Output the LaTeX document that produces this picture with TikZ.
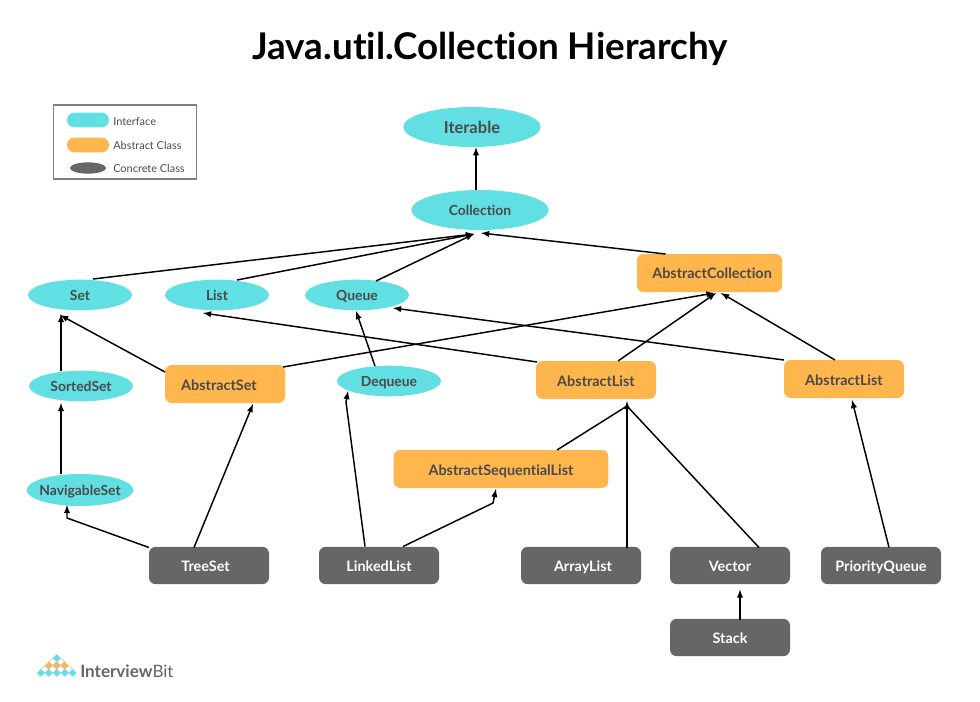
\documentclass[tikz,border=0pt]{standalone}
\usepackage{fontspec}
\setmainfont{Lato}[Ligatures=NoCommon]
\usetikzlibrary{arrows,positioning,shapes.geometric}
\definecolor{ifacecol}{HTML}{61DFE3}
\definecolor{abstcol}{HTML}{FFB64D}
\definecolor{conccol}{HTML}{666666}
\definecolor{txtcol}{HTML}{4A4A4A}
\tikzset{
  iface/.style={ellipse, fill=ifacecol, text=txtcol, font=\bfseries\fontsize{10.4}{12}\selectfont, inner sep=0pt, text height=8pt, text depth=0pt},
  abst/.style={rectangle, rounded corners=5pt, fill=abstcol, text=txtcol, font=\bfseries\fontsize{10.8}{12}\selectfont, inner sep=0pt, minimum width=90pt, minimum height=28.5pt, text height=10pt, text depth=0pt},
  conc/.style={rectangle, rounded corners=5pt, fill=conccol, text=white, font=\bfseries\fontsize{10.8}{12}\selectfont, inner sep=0pt, minimum width=90pt, minimum height=28pt, text height=8.5pt, text depth=0pt},
  arr/.style={-latex, line width=1.1pt, black},
  lne/.style={line width=1.1pt, black},
  legtxt/.style={text=txtcol, font=\fontsize{8.2}{9}\selectfont, anchor=west, inner sep=0pt}
}
\begin{document}
\begin{tikzpicture}[x=0.75pt, y=-0.75pt]
\useasboundingbox (0,0) rectangle (980,701);
\node at (490,49) [font=\bfseries\fontsize{27.6}{32}\selectfont, text=black] (Title) {Java.util.Collection Hierarchy};

\node at (125,142) [draw=gray, line width=0.8pt, minimum width=107.5pt, minimum height=55.5pt, inner sep=0pt] (Legend) {};
\node at (88,120) [rectangle, rounded corners=5.5pt, fill=ifacecol, minimum width=31.5pt, minimum height=11pt, inner sep=0pt] (LegI) {};
\node at (88,145) [rectangle, rounded corners=5.5pt, fill=abstcol, minimum width=31.5pt, minimum height=11pt, inner sep=0pt] (LegA) {};
\node at (88,168) [ellipse, fill=conccol, minimum width=27pt, minimum height=8.5pt, inner sep=0pt] (LegC) {};
\node at (113,121.5) [legtxt] (LegItxt) {Interface};
\node at (113,145.5) [legtxt] (LegAtxt) {Abstract Class};
\node at (113,168.5) [legtxt] (LegCtxt) {Concrete Class};

\node at (472,127) [iface, minimum width=103pt, minimum height=30pt, text height=9.5pt, font=\bfseries\fontsize{12.4}{14}\selectfont] (Iterable) {Iterable};
\node at (480,210) [iface, minimum width=103pt, minimum height=30pt] (Collection) {Collection};
\node at (80,295) [iface, minimum width=78pt, minimum height=23pt] (Set) {Set};
\node at (217,295) [iface, minimum width=78pt, minimum height=23pt] (List) {List};
\node at (357,295) [iface, minimum width=78pt, minimum height=23pt] (Queue) {Queue};
\node at (81,386) [iface, minimum width=78pt, minimum height=23pt] (SortedSet) {SortedSet};
\node at (389,381) [iface, minimum width=78pt, minimum height=23pt] (Dequeue) {Dequeue};
\node at (80,490) [iface, inner xsep=-4pt, minimum width=80pt, minimum height=24pt] (NavigableSet) {NavigableSet};

\node at (709.5,273) [abst, minimum width=109pt, text height=8pt] (AbstractCollection) {\hspace*{3.8pt}AbstractCollection};
\node at (225,384) [abst] (AbstractSet) {\hspace*{-9pt}AbstractSet};
\node at (596,380) [abst] (AbstractListA) {AbstractList};
\node at (844,379) [abst] (AbstractListB) {AbstractList};
\node at (501,469) [abst, minimum width=161pt] (AbstractSequentialList) {AbstractSequentialList};

\node at (209,565.5) [conc] (TreeSet) {\hspace*{-5.2pt}TreeSet};
\node at (379,565.5) [conc] (LinkedList) {LinkedList};
\node at (581,565.5) [conc] (ArrayList) {\hspace*{3pt}ArrayList};
\node at (730,565.5) [conc] (Vector) {Vector};
\node at (881,565.5) [conc] (PriorityQueue) {PriorityQueue};
\node at (730,637.5) [conc] (Stack) {Stack};

\coordinate (CollTip) at ([shift={(-6,24)}]Collection.center);
\coordinate (AlTip) at ([shift={(31,21)}]AbstractListA.center);
\coordinate (AlJoin) at ([shift={(31,26)}]AbstractListA.center);
\coordinate (NavBend) at ([shift={(-13,28)}]NavigableSet.center);
\coordinate (DeqBend) at ([shift={(-43,21)}]Dequeue.center);
\coordinate (SeqBend) at ([shift={(-8,34)}]AbstractSequentialList.center);

\draw[arr] ([xshift=-3pt]Collection.north) -- ([xshift=3pt]Iterable.south);
\draw[arr] ([shift={(13,-16)}]Set.center) -- (CollTip);
\draw[arr] ([shift={(20,-15)}]List.center) -- (CollTip);
\draw[arr] ([shift={(19,-14)}]Queue.center) -- (CollTip);
\draw[arr] ([shift={(-44,-19)}]AbstractCollection.center) -- ([shift={(1,23)}]Collection.center);
\draw[arr] ([shift={(-20,-15)}]SortedSet.center) -- ([shift={(-19,19)}]Set.center);
\draw[arr] ([shift={(-60,-12)}]AbstractSet.center) -- ([shift={(-20,20)}]Set.center);
\draw[arr] ([shift={(58,-17)}]AbstractSet.center) -- ([shift={(5,20)}]AbstractCollection.center);
\draw[arr] ([shift={(-59,-18)}]AbstractListA.center) -- ([shift={(-14,18)}]List.center);
\draw[arr] ([shift={(22,-19)}]AbstractListA.center) -- ([shift={(6.5,20)}]AbstractCollection.center);
\draw[arr] ([shift={(-9,-19)}]AbstractListB.center) -- ([shift={(11.5,20)}]AbstractCollection.center);
\draw[arr] ([shift={(-60,-19)}]AbstractListB.center) -- ([shift={(36,13)}]Queue.center);
\draw[arr] ([shift={(-14,-15)}]Dequeue.center) -- ([shift={(-1,16)}]Queue.center);
\draw[arr] ([shift={(-19,-16)}]NavigableSet.center) -- ([shift={(-20,17)}]SortedSet.center);
\draw[arr] ([shift={(-60,-18)}]TreeSet.center) -- (NavBend) -- ([shift={(-13,15)}]NavigableSet.center);
\draw[arr] ([shift={(-15,-18)}]TreeSet.center) -- ([shift={(28,20)}]AbstractSet.center);
\draw[arr] ([shift={(-14,-19)}]LinkedList.center) -- (DeqBend) -- ([shift={(-41,10)}]Dequeue.center);
\draw[arr] ([shift={(24,-19)}]LinkedList.center) -- (SeqBend) -- ([shift={(-5,20)}]AbstractSequentialList.center);
\draw[lne] ([shift={(56,-19)}]AbstractSequentialList.center) -- (AlJoin);
\draw[arr] ([shift={(46,-18)}]ArrayList.center) -- (AlTip);
\draw[lne] ([shift={(29,-18)}]Vector.center) -- (AlJoin);
\draw[arr] ([shift={(8,-18)}]PriorityQueue.center) -- ([shift={(8,21)}]AbstractListB.center);
\draw[arr] ([shift={(10,-18)}]Stack.center) -- ([shift={(10,24)}]Vector.center);

\foreach \px/\py/\pc in {56.7/658/ifacecol, 48.7/665.5/abstcol, 56.7/665.5/abstcol, 64.7/665.5/abstcol,
  40.7/673/ifacecol, 48.7/673/ifacecol, 56.7/673/ifacecol, 64.7/673/ifacecol, 72.7/673/ifacecol}
  \fill[\pc] (\px,\py-3.7) -- (\px+4,\py) -- (\px,\py+3.7) -- (\px-4,\py) -- cycle;
\foreach \px/\py in {52.7/661.7, 60.7/661.7, 44.7/669.2, 52.7/669.2, 60.7/669.2, 68.7/669.2}
  \draw[lightgray, line width=0.4pt] (\px,\py-3.7) -- (\px+4,\py) -- (\px,\py+3.7) -- (\px-4,\py) -- cycle;
\node at (80,671) [anchor=west, inner sep=0pt, text=conccol, font=\fontsize{12.8}{16}\selectfont] (Logo) {\textbf{Interview}Bit};
\end{tikzpicture}
\end{document}
